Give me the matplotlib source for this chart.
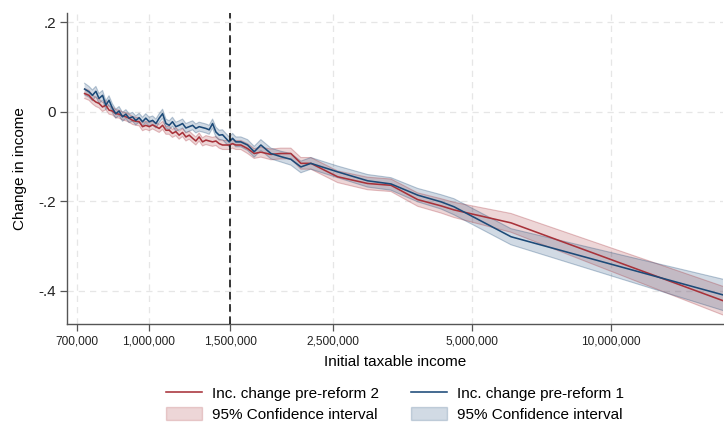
import numpy as np
import matplotlib.pyplot as plt
from matplotlib.patches import Patch
from matplotlib.lines import Line2D
from matplotlib.ticker import FixedLocator, NullLocator

plt.rcParams['font.family'] = ['Liberation Sans', 'DejaVu Sans']

# Data

income = [
    726000, 742000, 755000, 768000, 780000, 794000, 807000, 820000, 834000, 848000,
    862000, 877000, 892000, 906000, 922000, 937000, 953000, 969000, 985000, 1002000,
    1019000, 1036000, 1053000, 1071000, 1089000, 1107000, 1125000, 1144000, 1163000, 1183000,
    1203000, 1223000, 1244000, 1264000, 1285000, 1307000, 1329000, 1351000, 1374000, 1397000,
    1420000, 1444000, 1468000, 1493000, 1518000, 1543000,
    1582000, 1636000, 1691000, 1748000, 1838000, 1932000, 2030000, 2134000, 2243000, 2563000,
    2977000, 3344000, 3820000, 4291000, 4578000, 6083000, 17510000,
]

change_pre1 = [
    0.051, 0.045, 0.037, 0.046, 0.030, 0.037, 0.015, 0.026, 0.008, -0.004,
    0.002, -0.011, -0.005, -0.014, -0.011, -0.019, -0.013, -0.022, -0.014, -0.022,
    -0.019, -0.026, -0.014, -0.004, -0.026, -0.030, -0.022, -0.033, -0.030, -0.026,
    -0.036, -0.033, -0.030, -0.037, -0.033, -0.035, -0.037, -0.040, -0.026, -0.045,
    -0.052, -0.051, -0.059, -0.067, -0.059, -0.067,
    -0.067, -0.074, -0.089, -0.074, -0.093, -0.100, -0.106, -0.123, -0.115, -0.134,
    -0.154, -0.161, -0.186, -0.201, -0.212, -0.279, -0.409,
]

change_pre2 = [
    0.041, 0.037, 0.028, 0.022, 0.019, 0.011, 0.015, 0.004, 0.002, -0.004,
    -0.005, -0.009, -0.011, -0.014, -0.019, -0.021, -0.022, -0.033, -0.030, -0.033,
    -0.029, -0.033, -0.037, -0.030, -0.041, -0.041, -0.048, -0.044, -0.052, -0.046,
    -0.056, -0.052, -0.059, -0.065, -0.056, -0.067, -0.063, -0.065, -0.067, -0.065,
    -0.071, -0.074, -0.074, -0.074, -0.071, -0.074,
    -0.074, -0.082, -0.093, -0.090, -0.095, -0.093, -0.093, -0.115, -0.115, -0.145,
    -0.160, -0.164, -0.196, -0.210, -0.219, -0.248, -0.422,
]

# half-width of the 95% confidence bands
ci_pre1 = [
    0.013, 0.012, 0.012, 0.011, 0.011, 0.011, 0.010, 0.010, 0.010, 0.010,
    0.010, 0.010, 0.010, 0.010, 0.010, 0.010, 0.010, 0.010, 0.010, 0.010,
    0.010, 0.010, 0.010, 0.010, 0.010, 0.010, 0.010, 0.010, 0.010, 0.010,
    0.010, 0.010, 0.010, 0.010, 0.010, 0.010, 0.010, 0.010, 0.010, 0.011,
    0.011, 0.011, 0.011, 0.011, 0.011, 0.011,
    0.011, 0.012, 0.012, 0.012, 0.012, 0.012, 0.013, 0.013, 0.013, 0.013,
    0.014, 0.014, 0.015, 0.016, 0.018, 0.018, 0.035,
]

ci_pre2 = [
    0.011, 0.011, 0.010, 0.010, 0.010, 0.010, 0.010, 0.009, 0.009, 0.009,
    0.009, 0.009, 0.009, 0.009, 0.009, 0.009, 0.009, 0.009, 0.009, 0.009,
    0.009, 0.009, 0.009, 0.009, 0.009, 0.009, 0.009, 0.009, 0.009, 0.009,
    0.009, 0.009, 0.009, 0.009, 0.009, 0.009, 0.010, 0.010, 0.010, 0.010,
    0.010, 0.010, 0.010, 0.010, 0.010, 0.010,
    0.010, 0.011, 0.011, 0.011, 0.012, 0.012, 0.012, 0.013, 0.013, 0.013,
    0.014, 0.014, 0.015, 0.016, 0.017, 0.021, 0.032,
]

x_ticks = [700000, 1000000, 1500000, 2500000, 5000000, 10000000]
x_ticklabels = ["700,000", "1,000,000", "1,500,000", "2,500,000", "5,000,000", "10,000,000"]
y_ticks = [0.2, 0, -0.2, -0.4]
y_ticklabels = [".2", "0", "-.2", "-.4"]
threshold = 1500000

red = "#a8323a"
blue = "#1c4a78"

x = np.array(income)
b = np.array(change_pre1)
r = np.array(change_pre2)
bci = np.array(ci_pre1)
rci = np.array(ci_pre2)

fig = plt.figure(figsize=(7.24, 4.25), dpi=100, facecolor="white")
ax = fig.add_axes([67 / 724, 1 - 324 / 425, 656 / 724, 311 / 425])

# bands
ax.fill_between(x, r - rci, r + rci, facecolor=red, alpha=0.2, linewidth=0, zorder=2)
ax.fill_between(x, b - bci, b + bci, facecolor=blue, alpha=0.2, linewidth=0, zorder=2)
for arr, ci, col in [(r, rci, red), (b, bci, blue)]:
    ax.plot(x, arr + ci, color=col, alpha=0.3, linewidth=0.8, zorder=2)
    ax.plot(x, arr - ci, color=col, alpha=0.3, linewidth=0.8, zorder=2)

# lines
ax.plot(x, r, color=red, linewidth=1.15, zorder=3)
ax.plot(x, b, color=blue, linewidth=1.15, zorder=4)

ax.axvline(threshold, color="black", linestyle=(0, (5, 3)), linewidth=1.1, zorder=5)

ax.set_xscale("log")
ax.set_xlim(665000, 17500000)
ax.set_ylim(-0.474, 0.221)
ax.xaxis.set_major_locator(FixedLocator(x_ticks))
ax.xaxis.set_minor_locator(NullLocator())
ax.set_xticklabels(x_ticklabels, fontsize=8.6)
ax.set_yticks(y_ticks)
ax.set_yticklabels(y_ticklabels, fontsize=11)

ax.grid(True, color="#e6e6e6", linestyle=(0, (5, 4)), linewidth=0.9, zorder=0)
ax.set_axisbelow(True)

for side in ["top", "right"]:
    ax.spines[side].set_visible(False)
for side in ["left", "bottom"]:
    ax.spines[side].set_color("#555555")
    ax.spines[side].set_linewidth(1.0)
ax.tick_params(axis="both", direction="out", length=5, width=0.9, color="#555555",
               labelcolor="#222222", pad=3)

ax.set_xlabel("Initial taxable income", fontsize=11, labelpad=6)
ax.set_ylabel("Change in income", fontsize=11, labelpad=8)

handles = [
    Line2D([], [], color=red, linewidth=1.15),
    Patch(facecolor=red, alpha=0.2, edgecolor=red),
    Line2D([], [], color=blue, linewidth=1.15),
    Patch(facecolor=blue, alpha=0.2, edgecolor=blue),
]
labels = ["Inc. change pre-reform 2", "95% Confidence interval",
          "Inc. change pre-reform 1", "95% Confidence interval"]
fig.legend(handles, labels, ncol=2, loc="center", bbox_to_anchor=(395 / 724, 1 - 404 / 425),
           frameon=False, fontsize=11, handlelength=2.35, handleheight=1.0,
           handletextpad=0.65, columnspacing=2.1, labelspacing=0.35)

fig.savefig("out.png", dpi=100, facecolor="white")
